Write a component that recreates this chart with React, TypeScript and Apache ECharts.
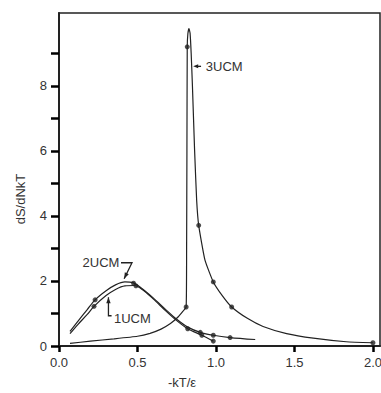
import React, { useEffect, useRef } from "react";
import * as echarts from "echarts";

const xTickValues = [0, 0.5, 1.0, 1.5, 2.0];
const yTickValues = [0, 1, 2, 3, 4, 5, 6, 7, 8, 9];
const yLabelValues = [0, 2, 4, 6, 8];

// 3UCM traced curve and measured points
const ucm3Curve: [number, number][] = [
  [0.07, 0.08], [0.2, 0.15], [0.35, 0.22], [0.5, 0.3], [0.58, 0.39], [0.65, 0.52],
  [0.71, 0.69], [0.76, 0.9], [0.79, 1.07], [0.81, 1.2], [0.813, 3.0], [0.815, 6.0],
  [0.817, 9.2], [0.821, 9.6], [0.828, 9.76], [0.835, 9.62], [0.842, 9.0], [0.85, 8.0],
  [0.864, 6.0], [0.877, 4.48], [0.89, 3.71], [0.93, 2.64], [0.983, 1.97], [1.04, 1.55],
  [1.10, 1.2], [1.2, 0.85], [1.3, 0.6], [1.45, 0.38], [1.62, 0.24], [1.83, 0.13], [2.0, 0.1],
];
const ucm3Points: [number, number][] = [
  [0.81, 1.2], [0.817, 9.2], [0.89, 3.71], [0.983, 1.97], [1.10, 1.2], [2.0, 0.1],
];

// 2UCM traced curve and measured points
const ucm2Curve: [number, number][] = [
  [0.07, 0.45], [0.12, 0.76], [0.18, 1.12], [0.23, 1.42], [0.3, 1.7], [0.36, 1.88],
  [0.42, 1.97], [0.47, 1.95], [0.52, 1.8], [0.6, 1.48], [0.68, 1.12], [0.75, 0.82],
  [0.82, 0.58], [0.9, 0.42], [0.983, 0.33], [1.09, 0.26], [1.25, 0.2],
];
const ucm2Points: [number, number][] = [
  [0.23, 1.42], [0.475, 1.93], [0.9, 0.42], [0.983, 0.33], [1.09, 0.26],
];

// 1UCM traced curve and measured points
const ucm1Curve: [number, number][] = [
  [0.07, 0.38], [0.12, 0.66], [0.18, 0.97], [0.223, 1.22], [0.3, 1.55], [0.36, 1.74],
  [0.42, 1.85], [0.48, 1.86], [0.53, 1.74], [0.6, 1.45], [0.68, 1.08], [0.75, 0.78],
  [0.82, 0.53], [0.91, 0.33], [0.983, 0.15],
];
const ucm1Points: [number, number][] = [
  [0.223, 1.22], [0.49, 1.85], [0.82, 0.53], [0.91, 0.33], [0.983, 0.15],
];

const INK = "#222222";
const FONT = "Liberation Sans";

function arrowHead(tip: number[], from: number[], len = 6, half = 2.5) {
  const dx = tip[0] - from[0];
  const dy = tip[1] - from[1];
  const d = Math.hypot(dx, dy) || 1;
  const ux = dx / d, uy = dy / d;
  const bx = tip[0] - ux * len, by = tip[1] - uy * len;
  return [
    [tip[0], tip[1]],
    [bx - uy * half, by + ux * half],
    [bx + uy * half, by - ux * half],
  ];
}

export default function App() {
  const ref = useRef<HTMLDivElement>(null);
  useEffect(() => {
    if (!ref.current) return;
    const chart = echarts.init(ref.current, undefined, { renderer: "svg" });
    const lineSeries = (data: [number, number][], smooth: number) => ({
      type: "line",
      data,
      showSymbol: false,
      smooth,
      lineStyle: { color: INK, width: 1.2 },
      z: 2,
    });
    const dotSeries = (data: [number, number][]) => ({
      type: "scatter",
      data,
      symbol: "circle",
      symbolSize: 5,
      itemStyle: { color: INK },
      z: 3,
    });
    chart.setOption({
      animation: false,
      grid: {
        left: 59, top: 13, right: 1, bottom: 47,
        outerBoundsMode: "none",
        show: true, borderColor: INK, borderWidth: 1.5,
      },
      xAxis: {
        type: "value",
        min: 0,
        max: 2.045,
        axisLine: { show: true, lineStyle: { color: INK, width: 2 } },
        axisTick: { show: true, customValues: xTickValues, length: 6, lineStyle: { color: "#000", width: 2.5 } },
        axisLabel: {
          customValues: xTickValues,
          formatter: (v: number) => v.toFixed(1),
          color: "#333", fontFamily: FONT, fontSize: 13, margin: 10,
        },
        splitLine: { show: false },
      },
      yAxis: {
        type: "value",
        min: 0,
        max: 10.24,
        axisLine: { show: true, lineStyle: { color: INK, width: 2 } },
        axisTick: { show: true, customValues: yTickValues, length: 8, lineStyle: { color: "#000", width: 2.5 } },
        axisLabel: {
          customValues: yLabelValues,
          color: "#333", fontFamily: FONT, fontSize: 13, margin: 12,
        },
        splitLine: { show: false },
      },
      series: [
        lineSeries(ucm3Curve, 0.15),
        lineSeries(ucm2Curve, 0.3),
        lineSeries(ucm1Curve, 0.3),
        dotSeries(ucm3Points),
        dotSeries(ucm2Points),
        dotSeries(ucm1Points),
      ],
    });

    const p = (x: number, y: number) => chart.convertToPixel({ gridIndex: 0 }, [x, y]) as number[];
    const textStyle = { fill: "#333", font: `13px "${FONT}"` };

    // 3UCM annotation
    const a3tip = p(0.855, 8.6);
    const a3from = p(0.905, 8.6);
    const t3 = p(0.935, 8.6);
    // 2UCM annotation
    const a2a = p(0.395, 2.56);
    const a2b = p(0.465, 2.56);
    const a2tip = p(0.415, 2.07);
    const t2 = p(0.385, 2.56);
    // 1UCM annotation
    const a1tip = p(0.315, 1.5);
    const a1c = p(0.315, 0.93);
    const a1d = p(0.335, 0.93);
    const t1 = p(0.35, 0.86);

    chart.setOption({
      graphic: [
        { type: "line", shape: { x1: a3from[0], y1: a3from[1], x2: a3tip[0] + 3, y2: a3tip[1] }, style: { stroke: INK, lineWidth: 1.3 } },
        { type: "polygon", shape: { points: arrowHead(a3tip, a3from, 5, 2) }, style: { fill: INK } },
        { type: "text", x: t3[0], y: t3[1], style: { ...textStyle, text: "3UCM", textAlign: "left", textVerticalAlign: "middle" } },

        { type: "polyline", shape: { points: [a2a, a2b, a2tip] }, style: { stroke: INK, lineWidth: 1.3, fill: null } },
        { type: "polygon", shape: { points: arrowHead(a2tip, a2b, 6, 2.2) }, style: { fill: INK } },
        { type: "text", x: t2[0], y: t2[1], style: { ...textStyle, text: "2UCM", textAlign: "right", textVerticalAlign: "middle" } },

        { type: "polyline", shape: { points: [a1tip, a1c, a1d] }, style: { stroke: INK, lineWidth: 1.3, fill: null } },
        { type: "polygon", shape: { points: arrowHead(a1tip, a1c, 6, 2.2) }, style: { fill: INK } },
        { type: "text", x: t1[0], y: t1[1], style: { ...textStyle, text: "1UCM", textAlign: "left", textVerticalAlign: "middle" } },

        { type: "text", x: 20, y: 199, rotation: Math.PI / 2, style: { ...textStyle, text: "dS/dNkT", textAlign: "center", textVerticalAlign: "middle" } },
        { type: "text", x: 182, y: 382, style: { ...textStyle, text: "-kT/ε", textAlign: "center", textVerticalAlign: "middle" } },
      ],
    });
    return () => chart.dispose();
  }, []);
  return (
    <div
      ref={ref}
      style={{ position: "fixed", left: 0, top: 0, width: 381, height: 393, background: "#fff" }}
    />
  );
}
